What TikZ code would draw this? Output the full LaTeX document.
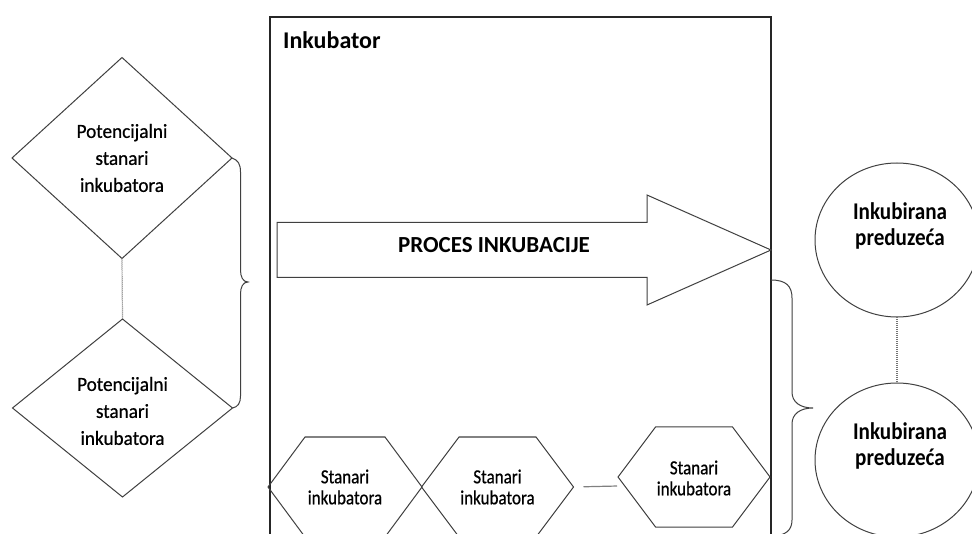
\documentclass[tikz,border=0pt]{standalone}
\usepackage{fontspec}
\setmainfont{Carlito}
\newfontfamily\dfont{Carlito}[FakeStretch=0.96,FakeBold=0.6]
\newfontfamily\hfont{Carlito}[FakeStretch=0.85,FakeBold=0.6]
\newfontfamily\cfont{Carlito}[FakeStretch=0.88]
\usetikzlibrary{shapes.geometric,calc}
\tikzset{
  shape line/.style={draw=black!75, line width=1pt},
  dtext/.style={align=center, font=\dfont\fontsize{20}{27}\selectfont, text=black},
  htext/.style={align=center, font=\hfont\fontsize{20}{21}\selectfont, text=black},
  ctext/.style={align=center, font=\cfont\bfseries\fontsize{24}{26}\selectfont, text=black},
  dotline/.style={draw=black!55, line width=1.2pt, dash pattern=on 1pt off 1pt},
  diam/.style={shape line, diamond, inner sep=0pt, outer sep=0pt, minimum width=220, fill=white},
  ell/.style={shape line, ellipse, inner sep=0pt, outer sep=0pt, minimum width=164, minimum height=154},
}
\begin{document}
\begin{tikzpicture}[x=1pt,y=-1pt]
\clip (0,0) rectangle (972,534);
\fill[white] (0,0) rectangle (972,534);

% incubator box
\node[draw=black!85, line width=1.2pt, anchor=north west, inner sep=0pt, outer sep=0pt,
      minimum width=501, minimum height=560] (box) at (270,17) {};
\node[anchor=base west, font=\bfseries\fontsize{24}{28}\selectfont, text=black, inner sep=0pt] (lbl) at (283,49) {Inkubator};

% process arrow
\draw[shape line, fill=white] (277,222.5) -- (647,222.5) -- (647,195) -- (771,250)
      -- (647,305) -- (647,277.5) -- (277,277.5) -- cycle;
\node[anchor=base, font=\bfseries\fontsize{23}{27}\selectfont, text=black, inner sep=0pt] (proc) at (494,253) {PROCES INKUBACIJE};

% diamonds
\node[diam, minimum height=201] (d1) at (122,158) {};
\node[dtext] (d1t) at (122,158) {Potencijalni\\stanari\\inkubatora};
\node[diam, minimum height=178] (d2) at (122.5,408) {};
\node[dtext] (d2t) at (122.5,411) {Potencijalni\\stanari\\inkubatora};
\draw[dotline] (d1.south) -- (d2.north);

% left brace
\draw[shape line] (d1.east) .. controls (238,160) and (240.5,164) .. (240.5,172)
   -- (240.5,270) .. controls (240.5,277) and (243,282) .. (248,282)
   .. controls (243,282) and (240.5,287) .. (240.5,294)
   -- (240.5,396) .. controls (240.5,403) and (238,407) .. (d2.east);

% hexagons
\node[htext] (h1) at (345,487) {Stanari\\inkubatora};
\node[htext] (h2) at (497.5,487) {Stanari\\inkubatora};
\node[htext] (h3) at (694,478) {Stanari\\inkubatora};
\draw[shape line] ($(h1)+(-77,0)$) -- ($(h1)+(-40,-50)$) -- ($(h1)+(40,-50)$) -- ($(h1)+(77,0)$)
      -- ($(h1)+(40,50)$) -- ($(h1)+(-40,50)$) -- cycle;
\draw[shape line] ($(h2)+(-76,0)$) -- ($(h2)+(-38.5,-50)$) -- ($(h2)+(38.5,-50)$) -- ($(h2)+(76,0)$)
      -- ($(h2)+(38.5,50)$) -- ($(h2)+(-38.5,50)$) -- cycle;
\draw[shape line] ($(h3)+(-76,-1)$) -- ($(h3)+(-38.5,-51)$) -- ($(h3)+(38.5,-51)$) -- ($(h3)+(76,-1)$)
      -- ($(h3)+(38.5,49)$) -- ($(h3)+(-38.5,49)$) -- cycle;
\coordinate (h2r) at ($(h2)+(76,0)$);
\coordinate (h3l) at ($(h3)+(-76,8)$);
\draw[draw=black!50, line width=1.2pt, shorten <=10pt, shorten >=1pt] (h2r) -- (h3l);

% circles
\node[ell] (c1) at (897,240) {};
\node[ctext] (c1t) at (900,226) {Inkubirana\\preduzeća};
\node[ell] (c2) at (897,460) {};
\node[ctext] (c2t) at (900,446) {Inkubirana\\preduzeća};
\draw[dotline] (c1.south) -- (c2.north);

% right brace
\draw[shape line] (771,280) .. controls (786,280) and (792,286) .. (792,298)
   -- (792,392) .. controls (792,402) and (800,408) .. (813,408)
   .. controls (800,408) and (792,414) .. (792,424)
   -- (792,520) .. controls (792,530) and (786,536) .. (771,536);
\end{tikzpicture}
\end{document}
